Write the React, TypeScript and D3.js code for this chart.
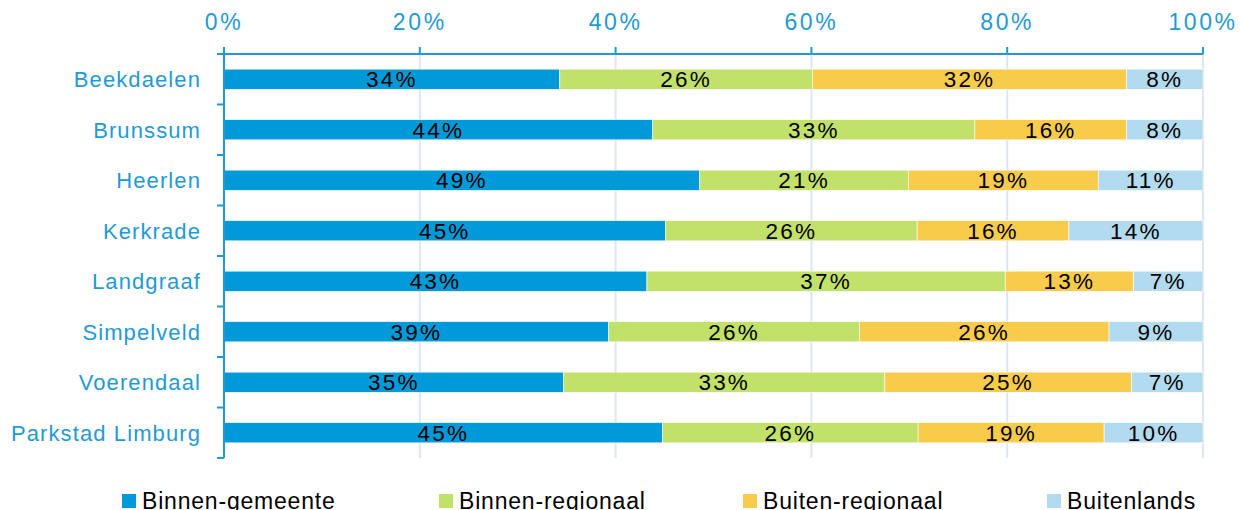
import React from "react";
import * as d3 from "d3";

const categories = ["Beekdaelen", "Brunssum", "Heerlen", "Kerkrade", "Landgraaf", "Simpelveld", "Voerendaal", "Parkstad Limburg"];
const seriesNames = ["Binnen-gemeente", "Binnen-regionaal", "Buiten-regionaal", "Buitenlands"];
const binnenGemeente = [34.3, 43.8, 48.6, 45.1, 43.2, 39.3, 34.7, 44.8];
const binnenRegionaal = [25.8, 32.9, 21.3, 25.7, 36.6, 25.6, 32.8, 26.1];
const buitenRegionaal = [32.1, 15.5, 19.4, 15.5, 13.1, 25.5, 25.2, 19.0];
const buitenlands = [7.8, 7.8, 10.7, 13.7, 7.1, 9.6, 7.3, 10.1];
const valueLabels = [
  ["34%", "26%", "32%", "8%"],
  ["44%", "33%", "16%", "8%"],
  ["49%", "21%", "19%", "11%"],
  ["45%", "26%", "16%", "14%"],
  ["43%", "37%", "13%", "7%"],
  ["39%", "26%", "26%", "9%"],
  ["35%", "33%", "25%", "7%"],
  ["45%", "26%", "19%", "10%"],
];
const xTicks = [0, 20, 40, 60, 80, 100];
const colors = ["#009ad9", "#c1e16a", "#f9cb4b", "#b2dbef"];
const legendX = [122, 439, 743, 1047];

const W = 1243, H = 510;
const left = 224, right = 1203, top = 54, bottom = 458;
const font = "'Liberation Sans', Arial, sans-serif";
const blue = "#1f9ad6";

export default function App() {
  const x = d3.scaleLinear().domain([0, 100]).range([left, right]);
  const y = d3.scaleBand<string>().domain(categories).range([top, bottom]).paddingInner(0.6).paddingOuter(0.3);
  const rows = categories.map((c, i) => {
    const vals = [binnenGemeente[i], binnenRegionaal[i], buitenRegionaal[i], buitenlands[i]];
    const total = d3.sum(vals);
    const norm = vals.map(v => (v / total) * 100);
    const cum = d3.cumsum(norm);
    return norm.map((v, j) => ({ x0: cum[j] - v, x1: cum[j], label: valueLabels[i][j] }));
  });
  const step = (bottom - top) / categories.length;
  const bandTicks = d3.range(categories.length + 1).map(i => top + i * step);
  return (
    <svg width={W} height={H} style={{ position: "absolute", left: 0, top: 0 }}>
      <rect width={W} height={H} fill="#fff" />
      {xTicks.map(t => (
        <line key={"g" + t} x1={x(t)} x2={x(t)} y1={top} y2={bottom} stroke="#dde6f2" strokeWidth={2} />
      ))}
      {rows.map((segs, i) =>
        segs.map((s, j) => (
          <rect key={i + "-" + j} x={x(s.x0)} y={y(categories[i])} width={x(s.x1) - x(s.x0)} height={y.bandwidth()}
            fill={colors[j]} stroke="#fff" strokeWidth={0.6} />
        ))
      )}
      {rows.map((segs, i) =>
        segs.map((s, j) => (
          <text key={"t" + i + "-" + j} x={(x(s.x0) + x(s.x1)) / 2} y={(y(categories[i]) as number) + y.bandwidth() / 2 + 8}
            textAnchor="middle" fontFamily={font} fontSize={22.5} letterSpacing={2.2} fill="#000">{s.label}</text>
        ))
      )}
      {/* top axis */}
      <line x1={left} x2={right} y1={top} y2={top} stroke={blue} strokeWidth={2} />
      {xTicks.map(t => (
        <g key={"xt" + t}>
          <line x1={x(t)} x2={x(t)} y1={top - 7} y2={top} stroke={blue} strokeWidth={2} />
          <text x={x(t)} y={30} textAnchor="middle" fontFamily={font} fontSize={23} letterSpacing={2.6} fill={blue}>{t}%</text>
        </g>
      ))}
      {/* left axis */}
      <line x1={left} x2={left} y1={top} y2={bottom} stroke={blue} strokeWidth={2} />
      {bandTicks.map((v, i) => (
        <line key={"yt" + i} x1={left - 7} x2={left} y1={v} y2={v} stroke={blue} strokeWidth={2} />
      ))}
      {categories.map(c => (
        <text key={"c" + c} x={201} y={(y(c) as number) + y.bandwidth() / 2 + 8} textAnchor="end" fontFamily={font}
          fontSize={22} letterSpacing={1.1} fill={blue}>{c}</text>
      ))}
      {/* legend */}
      {seriesNames.map((n, i) => (
        <g key={"l" + n}>
          <rect x={legendX[i]} y={494} width={14} height={14} fill={colors[i]} />
          <text x={legendX[i] + 20} y={509} fontFamily={font} fontSize={23} letterSpacing={0.8} fill="#000">{n}</text>
        </g>
      ))}
    </svg>
  );
}
